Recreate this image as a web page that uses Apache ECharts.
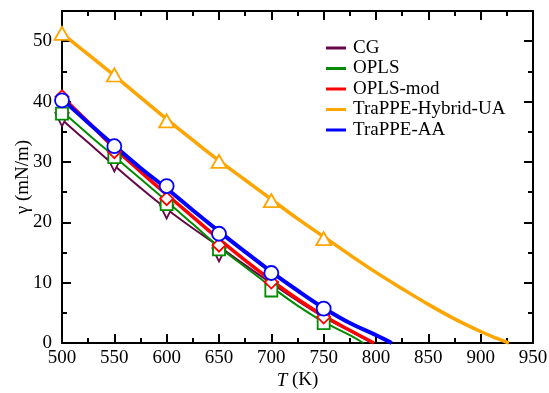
<!DOCTYPE html>
<html>
<head>
<meta charset="utf-8">
<script src="https://cdn.jsdelivr.net/npm/echarts@6/dist/echarts.min.js"></script>
<style>
  html, body { margin: 0; padding: 0; background: #fff; }
  #chart { width: 549px; height: 393px; }
</style>
</head>
<body>
<div id="chart"></div>
<script>
// simulation points
const markerT = [500, 550, 600, 650, 700, 750];
const cgPts = [37.0, 29.5, 21.7, 14.6, 9.0, 4.0];
const oplsPts = [38.0, 30.8, 23.0, 15.5, 8.7, 3.3];
const oplsModPts = [40.8, 31.7, 23.9, 16.2, 10.1, 4.3];
const hybridPts = [51.3, 44.4, 36.8, 30.1, 23.6, 17.3];
const aaPts = [40.2, 32.6, 26.0, 18.1, 11.6, 5.7];

// fitted curves
const cgCurveT = [500, 525, 550, 575, 600, 625, 650, 675, 700, 725, 750, 775, 796];
const cgCurve = [37.0, 33.2, 29.4, 25.7, 22.2, 19.0, 16.0, 12.9, 9.9, 7.0, 4.3, 2.0, 0];
const oplsCurveT = [500, 525, 550, 575, 600, 625, 650, 675, 700, 725, 750, 775, 788];
const oplsCurve = [38.4, 34.6, 30.9, 27.2, 23.5, 19.7, 15.9, 12.6, 9.3, 6.2, 3.5, 1.3, 0];
const oplsModCurveT = [500, 525, 550, 575, 600, 625, 650, 675, 700, 725, 750, 775, 798];
const oplsModCurve = [40.8, 36.6, 32.3, 28.4, 24.6, 20.9, 17.2, 13.7, 10.4, 7.3, 4.5, 2.1, 0];
const hybridCurveT = [500, 525, 550, 575, 600, 625, 650, 675, 700, 725, 750, 775, 800, 825, 850, 875, 900, 915, 927];
const hybridCurve = [51.3, 47.8, 44.3, 40.7, 37.1, 33.6, 30.2, 27.0, 23.8, 20.6, 17.6, 14.6, 11.7, 9.0, 6.4, 4.0, 1.9, 0.8, 0];
const aaCurveT = [500, 525, 550, 575, 600, 625, 650, 675, 700, 725, 750, 775, 800, 815];
const aaCurve = [40.4, 36.5, 32.7, 29.0, 25.6, 22.0, 18.5, 15.1, 11.8, 8.7, 5.8, 3.3, 1.3, 0];

const seriesNames = ['CG', 'OPLS', 'OPLS-mod', 'TraPPE-Hybrid-UA', 'TraPPE-AA'];
const colors = ['#670748', '#008b00', '#ff0000', '#ffa500', '#0000ff'];

const font = 'Liberation Serif';

const chart = echarts.init(document.getElementById('chart'));

const curves = [
  [cgCurveT, cgCurve, 2],
  [oplsCurveT, oplsCurve, 2],
  [oplsModCurveT, oplsModCurve, 3.5],
  [hybridCurveT, hybridCurve, 3.5],
  [aaCurveT, aaCurve, 4],
];
const points = [cgPts, oplsPts, oplsModPts, hybridPts, aaPts];
const symbols = [
  { symbol: 'triangle', size: 13, rotate: 180 },
  { symbol: 'rect', size: 12, rotate: 0 },
  { symbol: 'diamond', size: 13, rotate: 0 },
  { symbol: 'triangle', size: [15, 13], rotate: 0 },
  { symbol: 'circle', size: 14, rotate: 0 },
];

const lineSeries = curves.map((c, i) => ({
  name: seriesNames[i],
  type: 'line',
  xAxisIndex: 0,
  yAxisIndex: 0,
  smooth: 0.4,
  showSymbol: false,
  symbol: 'none',
  color: colors[i],
  lineStyle: { color: colors[i], width: c[2] },
  data: c[0].map((t, k) => [t, c[1][k]]),
  z: 2,
}));

const markerSeries = points.map((p, i) => ({
  name: seriesNames[i] + ' sim',
  type: 'scatter',
  xAxisIndex: 0,
  yAxisIndex: 0,
  symbol: symbols[i].symbol,
  symbolSize: symbols[i].size,
  symbolRotate: symbols[i].rotate,
  itemStyle: { color: '#fff', borderColor: colors[i], borderWidth: 1.8, opacity: 1 },
  data: markerT.map((t, k) => [t, p[k]]),
  z: 3,
}));

const axisLine = { show: true, onZero: false, lineStyle: { color: '#000', width: 2 } };

const option = {
  animation: false,
  grid: { left: 62, right: 16, top: 11, bottom: 50, outerBoundsMode: 'none' },
  legend: {
    data: seriesNames,
    orient: 'vertical',
    left: 321,
    top: 33,
    itemGap: 0.5,
    itemWidth: 20,
    itemHeight: 3,
    icon: 'rect',
    textStyle: { fontFamily: font, fontSize: 19, color: '#000', lineHeight: 20, padding: [0, 0, 0, 2] },
  },
  xAxis: [
    {
      type: 'value', position: 'bottom', min: 500, max: 950, interval: 50,
      axisLine: axisLine,
      axisTick: { inside: true, length: 9, lineStyle: { width: 2, color: '#000' } },
      minorTick: { show: true, splitNumber: 2, length: 5, lineStyle: { width: 2, color: '#000' } },
      splitLine: { show: false },
      axisLabel: { fontFamily: font, fontSize: 19, color: '#000', margin: 6 },
      name: '{i|T} (K)',
      nameLocation: 'middle',
      nameGap: 28,
      nameMoveOverlap: false,
      nameTextStyle: {
        fontFamily: font, fontSize: 19, color: '#000',
        rich: { i: { fontFamily: font, fontSize: 19, fontStyle: 'italic', color: '#000' } },
      },
    },
    {
      type: 'value', position: 'top', min: 500, max: 950, interval: 50,
      axisLine: axisLine,
      axisTick: { inside: true, length: 9, lineStyle: { width: 2, color: '#000' } },
      minorTick: { show: true, splitNumber: 2, length: 5, lineStyle: { width: 2, color: '#000' } },
      splitLine: { show: false },
      axisLabel: { show: false },
    },
  ],
  yAxis: [
    {
      type: 'value', position: 'left', min: 0, max: 55, interval: 10,
      axisLine: axisLine,
      axisTick: { inside: true, length: 9, lineStyle: { width: 2, color: '#000' } },
      splitLine: { show: false },
      axisLabel: { fontFamily: font, fontSize: 19, color: '#000', margin: 10, showMaxLabel: false },
      name: 'γ (mN/m)',
      nameLocation: 'middle',
      nameGap: 29,
      nameMoveOverlap: false,
      nameTextStyle: { fontFamily: font, fontSize: 19, color: '#000' },
    },
    {
      type: 'value', position: 'left', min: 0, max: 55, interval: 5,
      axisLine: { show: false },
      axisTick: { inside: true, length: 5, lineStyle: { width: 2, color: '#000' } },
      splitLine: { show: false },
      axisLabel: { show: false },
    },
    {
      type: 'value', position: 'right', min: 0, max: 55, interval: 10,
      axisLine: axisLine,
      axisTick: { inside: true, length: 9, lineStyle: { width: 2, color: '#000' } },
      splitLine: { show: false },
      axisLabel: { show: false },
    },
    {
      type: 'value', position: 'right', min: 0, max: 55, interval: 5,
      axisLine: { show: false },
      axisTick: { inside: true, length: 5, lineStyle: { width: 2, color: '#000' } },
      splitLine: { show: false },
      axisLabel: { show: false },
    },
  ],
  series: [...lineSeries, ...markerSeries],
};

chart.setOption(option);
</script>
</body>
</html>
